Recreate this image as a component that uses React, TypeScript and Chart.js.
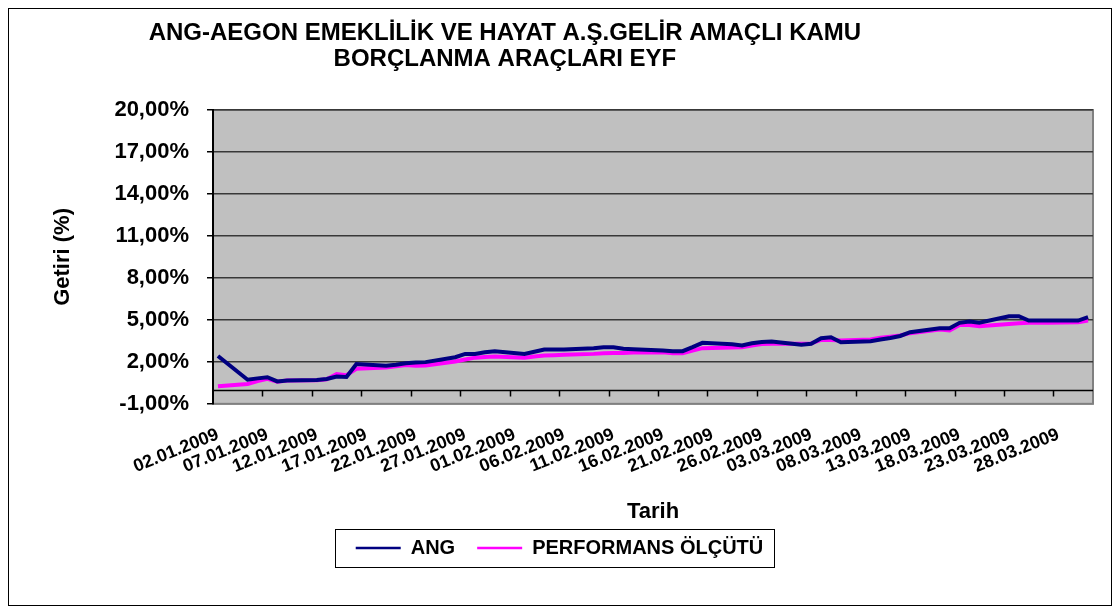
import React, { useEffect, useRef } from 'react';
import { Chart, registerables } from 'chart.js';

Chart.register(...registerables);

const titleLines = ['ANG-AEGON EMEKLİLİK VE HAYAT A.Ş.GELİR AMAÇLI KAMU', 'BORÇLANMA ARAÇLARI EYF'];
const seriesNames = ['ANG', 'PERFORMANS ÖLÇÜTÜ'];
const xAxisTitle = 'Tarih';
const yAxisTitle = 'Getiri (%)';
const yMin = -1;
const yMax = 20;
const yStep = 3;
const labelEvery = 5;

const dates = [
  '02.01.2009', '03.01.2009', '04.01.2009', '05.01.2009', '06.01.2009', '07.01.2009', '08.01.2009', '09.01.2009', '10.01.2009', '11.01.2009',
  '12.01.2009', '13.01.2009', '14.01.2009', '15.01.2009', '16.01.2009', '17.01.2009', '18.01.2009', '19.01.2009', '20.01.2009', '21.01.2009',
  '22.01.2009', '23.01.2009', '24.01.2009', '25.01.2009', '26.01.2009', '27.01.2009', '28.01.2009', '29.01.2009', '30.01.2009', '31.01.2009',
  '01.02.2009', '02.02.2009', '03.02.2009', '04.02.2009', '05.02.2009', '06.02.2009', '07.02.2009', '08.02.2009', '09.02.2009', '10.02.2009',
  '11.02.2009', '12.02.2009', '13.02.2009', '14.02.2009', '15.02.2009', '16.02.2009', '17.02.2009', '18.02.2009', '19.02.2009', '20.02.2009',
  '21.02.2009', '22.02.2009', '23.02.2009', '24.02.2009', '25.02.2009', '26.02.2009', '27.02.2009', '28.02.2009', '01.03.2009', '02.03.2009',
  '03.03.2009', '04.03.2009', '05.03.2009', '06.03.2009', '07.03.2009', '08.03.2009', '09.03.2009', '10.03.2009', '11.03.2009', '12.03.2009',
  '13.03.2009', '14.03.2009', '15.03.2009', '16.03.2009', '17.03.2009', '18.03.2009', '19.03.2009', '20.03.2009', '21.03.2009', '22.03.2009',
  '23.03.2009', '24.03.2009', '25.03.2009', '26.03.2009', '27.03.2009', '28.03.2009', '29.03.2009', '30.03.2009', '31.03.2009',
];

// null = no trading day (weekend); lines span across them
const angValues = [
  2.42, null, null, 0.72, 0.82, 0.90, 0.60, 0.67, null, null,
  0.70, 0.78, 0.95, 0.92, 1.85, null, null, 1.72, 1.80, 1.90,
  1.95, 1.98, null, null, 2.33, 2.57, 2.57, 2.68, 2.76, null,
  null, 2.57, 2.72, 2.88, 2.88, 2.88, null, null, 2.98, 3.05,
  3.05, 2.93, 2.90, null, null, 2.81, 2.76, 2.76, 3.05, 3.36,
  null, null, 3.25, 3.17, 3.33, 3.42, 3.45, null, null, 3.22,
  3.29, 3.69, 3.76, 3.40, null, null, 3.47, 3.60, 3.70, 3.85,
  4.12, null, null, 4.40, 4.40, 4.79, 4.88, 4.79, null, null,
  5.26, 5.26, 4.95, 4.95, 4.95, null, null, 4.95, 5.19,
];

const perfValues = [
  0.25, null, null, 0.42, 0.62, 0.78, 0.58, 0.67, null, null,
  0.68, 0.76, 1.12, 1.05, 1.50, null, null, 1.60, 1.68, 1.78,
  1.72, 1.74, null, null, 2.02, 2.17, 2.30, 2.35, 2.38, null,
  null, 2.29, 2.38, 2.45, 2.47, 2.50, null, null, 2.57, 2.62,
  2.64, 2.64, 2.66, null, null, 2.69, 2.62, 2.62, 2.80, 2.98,
  null, null, 3.02, 3.05, 3.17, 3.27, 3.30, null, null, 3.30,
  3.32, 3.57, 3.57, 3.52, null, null, 3.60, 3.72, 3.80, 3.88,
  4.05, null, null, 4.31, 4.24, 4.64, 4.64, 4.55, null, null,
  4.71, 4.76, 4.79, 4.80, 4.80, null, null, 4.83, 4.95,
];

const FONT = '"Liberation Sans", Arial, sans-serif';

const excelPlugin = {
  id: 'excelLook',
  afterLayout(chart: any) {
    const lg = chart.legend;
    if (lg) {
      lg.left -= 12;
      lg.right -= 12;
    }
  },
  beforeDraw(chart: any) {
    const { ctx, chartArea: a } = chart;
    ctx.save();
    ctx.fillStyle = '#c0c0c0';
    ctx.fillRect(a.left, a.top, a.right - a.left, a.bottom - a.top);
    ctx.strokeStyle = '#808080';
    ctx.lineWidth = 2;
    ctx.strokeRect(a.left, a.top, a.right - a.left, a.bottom - a.top);
    ctx.restore();
  },
  beforeDatasetsDraw(chart: any) {
    const { ctx, chartArea: a, scales } = chart;
    const xs = scales.x;
    const ys = scales.y;
    const y0 = Math.round(ys.getPixelForValue(0)) + 0.5;
    ctx.save();
    ctx.strokeStyle = '#000';
    ctx.lineWidth = 1.5;
    ctx.beginPath();
    ctx.moveTo(a.left, y0);
    ctx.lineTo(a.right, y0);
    const half = (xs.getPixelForValue(1) - xs.getPixelForValue(0)) / 2;
    for (let i = labelEvery; i < dates.length; i += labelEvery) {
      const px = Math.round(xs.getPixelForValue(i) - half) + 0.5;
      ctx.moveTo(px, y0);
      ctx.lineTo(px, y0 + 6);
    }
    ctx.stroke();
    ctx.restore();
  },
  afterDraw(chart: any) {
    const { ctx } = chart;
    ctx.save();
    ctx.fillStyle = '#000';
    ctx.font = `bold 24px ${FONT}`;
    ctx.textAlign = 'center';
    ctx.textBaseline = 'middle';
    const cx = chart.width * 0.45;
    ctx.fillText(titleLines[0], cx, 24);
    ctx.fillText(titleLines[1], cx, 50);
    const boxes = chart.legend && chart.legend.legendHitBoxes;
    if (boxes && boxes.length) {
      let l = Infinity, r = -Infinity, t = Infinity, b = -Infinity;
      boxes.forEach((h: any) => {
        l = Math.min(l, h.left);
        r = Math.max(r, h.left + h.width);
        t = Math.min(t, h.top);
        b = Math.max(b, h.top + h.height);
      });
      ctx.strokeStyle = '#000';
      ctx.lineWidth = 1;
      ctx.strokeRect(Math.round(l - 21) + 0.5, Math.round(t - 9) + 0.5, Math.round(r - l + 31), Math.round(b - t + 18));
    }
    ctx.restore();
  },
};

export default function App() {
  const ref = useRef<HTMLCanvasElement>(null);
  useEffect(() => {
    if (!ref.current) return;
    const chart = new Chart(ref.current, {
      type: 'line',
      data: {
        labels: dates,
        datasets: [
          {
            label: seriesNames[0],
            data: angValues,
            borderColor: '#000080',
            backgroundColor: '#000080',
            borderWidth: 4,
            pointRadius: 0,
            spanGaps: true,
            tension: 0,
          },
          {
            label: seriesNames[1],
            data: perfValues,
            borderColor: '#ff00ff',
            backgroundColor: '#ff00ff',
            borderWidth: 4,
            pointRadius: 0,
            spanGaps: true,
            tension: 0,
          },
        ],
      },
      options: {
        animation: false,
        responsive: true,
        maintainAspectRatio: false,
        layout: { padding: { top: 101, left: 41, right: 18, bottom: 37 } },
        plugins: {
          title: { display: false },
          tooltip: { enabled: false },
          legend: {
            position: 'bottom',
            labels: {
              usePointStyle: true,
              pointStyle: 'line',
              pointStyleWidth: 45,
              color: '#000',
              font: { family: FONT, size: 20, weight: 'bold' },
              padding: 22,
              generateLabels: (c: any) =>
                Chart.defaults.plugins.legend.labels.generateLabels(c).map((it: any) => ({ ...it, lineWidth: 2.5 })),
            },
          },
        },
        scales: {
          x: {
            type: 'category',
            offset: true,
            afterFit: (s: any) => {
              s.paddingRight = 0;
            },
            grid: { display: false, drawTicks: false },
            border: { display: false },
            ticks: {
              autoSkip: false,
              maxRotation: 22,
              minRotation: 22,
              padding: 20,
              color: '#000',
              font: { family: FONT, size: 18, weight: 'bold' },
              callback: (_v: any, i: number) => (i % labelEvery === 0 ? dates[i] : ''),
            },
            title: {
              display: true,
              text: xAxisTitle,
              color: '#000',
              font: { family: FONT, size: 22, weight: 'bold' },
              padding: { top: 1, bottom: -9 },
            },
          },
          y: {
            min: yMin,
            max: yMax,
            grid: {
              color: (c: any) => (c.tick && c.tick.value === yMin ? '#808080' : '#383838'),
              lineWidth: 1.5,
              tickLength: 6,
              tickColor: '#000',
            },
            border: { display: true, color: '#000', width: 2 },
            ticks: {
              stepSize: yStep,
              padding: 18,
              color: '#000',
              font: { family: FONT, size: 22, weight: 'bold' },
              callback: (v: any) => Number(v).toFixed(2).replace('.', ',') + '%',
            },
            title: {
              display: true,
              text: yAxisTitle,
              color: '#000',
              font: { family: FONT, size: 22, weight: 'bold' },
              padding: { top: 0, bottom: 20 },
            },
          },
        },
      },
      plugins: [excelPlugin],
    });
    return () => chart.destroy();
  }, []);
  return (
    <div style={{ width: 1102, height: 596, border: '1px solid #000', position: 'relative' }}>
      <canvas ref={ref} />
    </div>
  );
}
